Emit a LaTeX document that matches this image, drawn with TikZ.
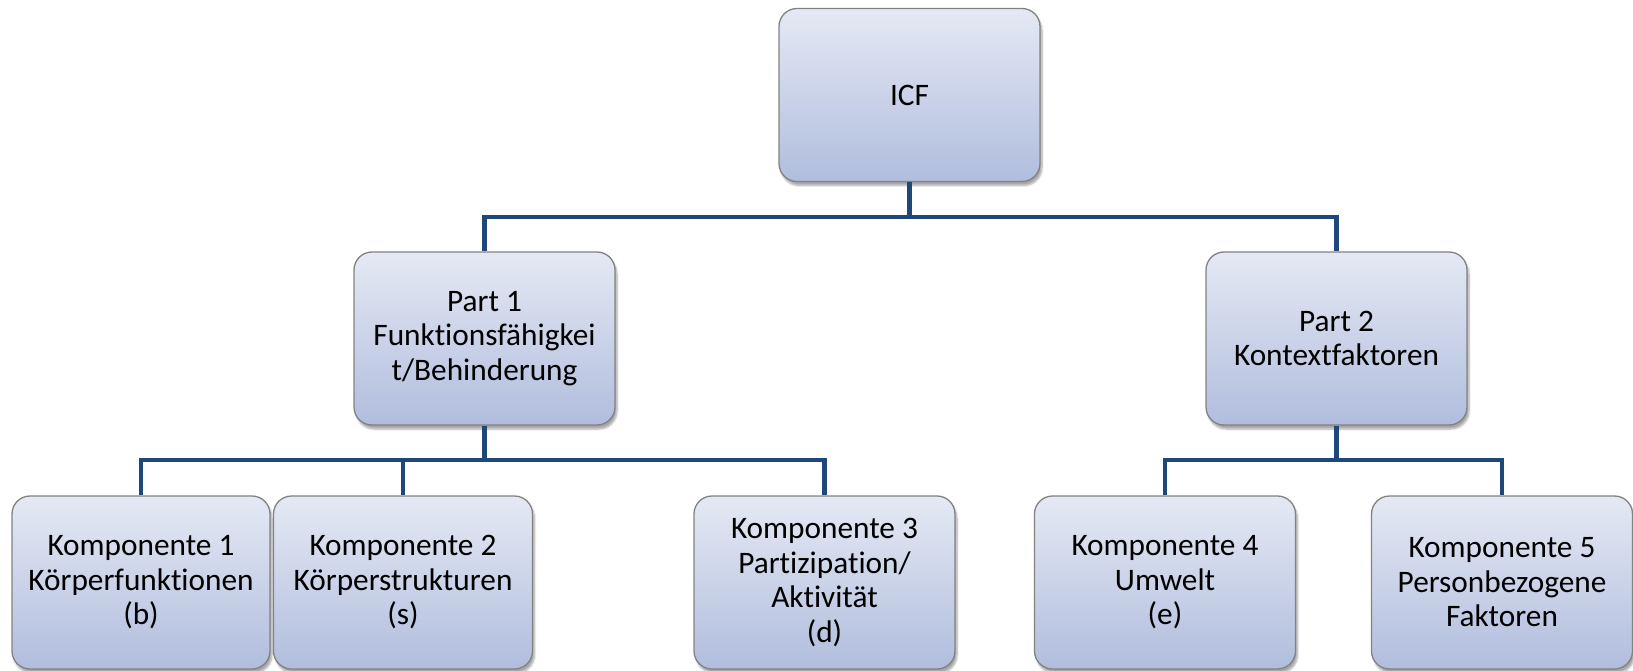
\documentclass[tikz,border=0pt]{standalone}
\usepackage{fontspec}
\setmainfont{Carlito}[Ligatures={NoCommon}]
\usetikzlibrary{shadows.blur}
\definecolor{boxtop}{RGB}{229,233,244}
\definecolor{boxbot}{RGB}{176,189,221}
\definecolor{boxline}{RGB}{130,130,130}
\definecolor{conncol}{RGB}{31,71,122}
\tikzset{
  orgbox/.style={draw=boxline, line width=1.3pt, rounded corners=18pt,
    top color=boxtop, bottom color=boxbot,
    minimum width=261pt, minimum height=173pt, inner sep=2pt,
    align=center, font=\fontsize{31.3}{34.5}\selectfont,
    blur shadow={shadow xshift=2pt, shadow yshift=-4pt, shadow blur steps=6, shadow opacity=35}},
  conn/.style={draw=conncol, line width=4.8pt}
}
\begin{document}
\begin{tikzpicture}[x=1pt,y=-1pt]
\useasboundingbox (0,0) rectangle (1633,671);
\coordinate (busA) at (0,217);
\coordinate (busB) at (0,460);
\node[orgbox] (icf) at (909.5,95) {ICF};
\node[orgbox] (p1) at (484.5,338.5) {Part 1\\Funktionsfähigkei\\t/Behinderung};
\node[orgbox] (p2) at (1336.5,338.5) {Part 2\\Kontextfaktoren};
\node[orgbox, minimum width=258pt] (c1) at (141,582.5) {Komponente 1\\Körperfunktionen\\(b)};
\node[orgbox, minimum width=259pt] (c2) at (403,582.5) {Komponente 2\\Körperstrukturen\\(s)};
\node[orgbox] (c3) at (824.5,582.5) {Komponente 3\\Partizipation/\\Aktivität\\(d)};
\node[orgbox] (c4) at (1165,582.5) {Komponente 4\\Umwelt\\(e)};
\node[orgbox] (c5) at (1502,582.5) {Komponente 5\\Personbezogene\\Faktoren};
\draw[conn] (icf.south) -- (icf.south |- busA) -| (p1.north);
\draw[conn] (icf.south |- busA) -| (p2.north);
\draw[conn] (p1.south) -- (p1.south |- busB) -| (c1.north);
\draw[conn] (p1.south |- busB) -| (c2.north);
\draw[conn] (p1.south |- busB) -| (c3.north);
\draw[conn] (p2.south) -- (p2.south |- busB) -| (c4.north);
\draw[conn] (p2.south |- busB) -| (c5.north);
\end{tikzpicture}
\end{document}
